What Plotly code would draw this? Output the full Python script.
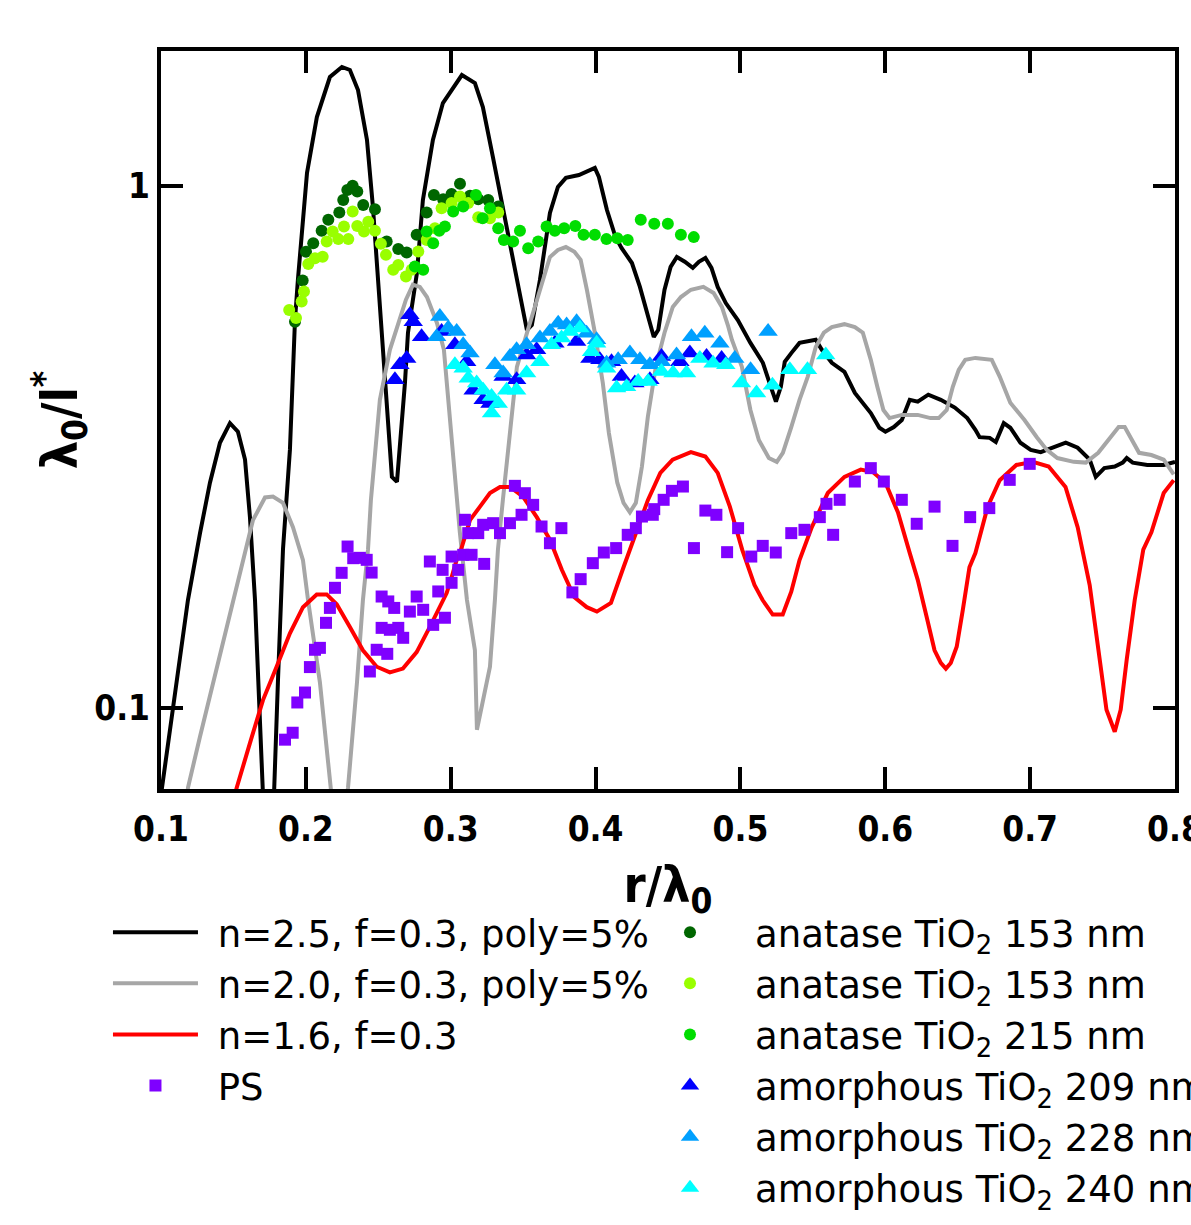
import plotly.graph_objects as go

# ---- model curves: (r/lambda0, lambda0/l*) ----
N25_CURVE = [
    (0.1, 0.0682), (0.1186, 0.161), (0.1269, 0.216), (0.1338, 0.270), (0.1407, 0.322),
    (0.1476, 0.351), (0.1531, 0.338), (0.158, 0.299), (0.1614, 0.232), (0.1649, 0.161),
    (0.1663, 0.129), (0.1704, 0.0682), (0.174, 0.05), (0.178, 0.0682), (0.1807, 0.112),
    (0.1842, 0.201), (0.189, 0.312), (0.1925, 0.553), (0.1945, 0.660), (0.2008, 1.058),
    (0.2076, 1.353), (0.2166, 1.614), (0.2249, 1.687), (0.2304, 1.665), (0.236, 1.524),
    (0.2422, 1.223), (0.2463, 0.910), (0.2511, 0.586), (0.2532, 0.485), (0.2567, 0.361),
    (0.2594, 0.277), (0.2629, 0.271), (0.2649, 0.312), (0.2684, 0.419), (0.2705, 0.523),
    (0.2739, 0.604), (0.2767, 0.681), (0.2808, 0.939), (0.2877, 1.223), (0.2946, 1.439),
    (0.3077, 1.628), (0.3167, 1.572), (0.3222, 1.414), (0.3291, 1.135), (0.336, 0.910),
    (0.3429, 0.730), (0.3491, 0.586), (0.3526, 0.529), (0.356, 0.541), (0.3616, 0.660),
    (0.3685, 0.887), (0.374, 0.994), (0.3795, 1.035), (0.3885, 1.048), (0.3995, 1.081),
    (0.4023, 1.039), (0.4078, 0.899), (0.4137, 0.798), (0.4179, 0.760), (0.4251, 0.711),
    (0.4306, 0.640), (0.4361, 0.561), (0.4402, 0.513), (0.4433, 0.530), (0.4476, 0.632),
    (0.4518, 0.699), (0.4561, 0.730), (0.4616, 0.715), (0.4671, 0.696), (0.4713, 0.715),
    (0.4758, 0.727), (0.48, 0.696), (0.4843, 0.640), (0.4899, 0.596), (0.4982, 0.553),
    (0.5069, 0.500), (0.5155, 0.458), (0.521, 0.412), (0.5245, 0.386), (0.5279, 0.412),
    (0.5306, 0.460), (0.5351, 0.478), (0.5408, 0.500), (0.552, 0.507), (0.5562, 0.485),
    (0.5631, 0.458), (0.5718, 0.440), (0.579, 0.401), (0.5845, 0.384), (0.59, 0.367),
    (0.5959, 0.344), (0.6001, 0.338), (0.6059, 0.345), (0.6114, 0.356), (0.6169, 0.389),
    (0.6224, 0.386), (0.6297, 0.398), (0.6383, 0.389), (0.648, 0.376), (0.6566, 0.359),
    (0.6622, 0.341), (0.6651, 0.330), (0.6721, 0.329), (0.6763, 0.323), (0.6818, 0.351),
    (0.6863, 0.344), (0.6933, 0.322), (0.7004, 0.312), (0.7073, 0.309), (0.7159, 0.316),
    (0.7246, 0.322), (0.7328, 0.315), (0.7411, 0.299), (0.7453, 0.277), (0.7512, 0.288),
    (0.7584, 0.290), (0.7639, 0.295), (0.7667, 0.301), (0.7708, 0.295), (0.7809, 0.292),
    (0.7922, 0.292), (0.8, 0.296),
]

N20_CURVE = [
    (0.1173, 0.06), (0.1186, 0.0704), (0.1269, 0.0881), (0.1386, 0.120), (0.1497, 0.161),
    (0.1573, 0.198), (0.1635, 0.229), (0.1718, 0.253), (0.1773, 0.254), (0.1842, 0.247),
    (0.1911, 0.222), (0.198, 0.192), (0.2015, 0.161), (0.2097, 0.112), (0.2173, 0.0698),
    (0.2222, 0.06), (0.2256, 0.06), (0.2291, 0.0704), (0.2353, 0.112), (0.2394, 0.161),
    (0.2429, 0.201), (0.2449, 0.250), (0.2511, 0.389), (0.258, 0.485), (0.2649, 0.561),
    (0.2691, 0.605), (0.2739, 0.646), (0.2787, 0.640), (0.2836, 0.612), (0.2905, 0.546),
    (0.2953, 0.485), (0.2994, 0.361), (0.3063, 0.217), (0.3112, 0.161), (0.3167, 0.129),
    (0.3181, 0.0909), (0.3222, 0.104), (0.3271, 0.120), (0.3305, 0.161), (0.3326, 0.201),
    (0.336, 0.250), (0.3408, 0.336), (0.3457, 0.450), (0.3526, 0.522), (0.3595, 0.605),
    (0.3685, 0.730), (0.374, 0.753), (0.3795, 0.763), (0.3854, 0.747), (0.3897, 0.721),
    (0.394, 0.632), (0.3995, 0.523), (0.405, 0.419), (0.4092, 0.336), (0.415, 0.270),
    (0.4193, 0.247), (0.4237, 0.237), (0.4278, 0.247), (0.432, 0.290), (0.4361, 0.361),
    (0.4416, 0.450), (0.4476, 0.523), (0.4533, 0.586), (0.4589, 0.612), (0.4658, 0.632),
    (0.4744, 0.640), (0.4815, 0.623), (0.4872, 0.586), (0.4913, 0.541), (0.4941, 0.507),
    (0.501, 0.450), (0.5069, 0.372), (0.5127, 0.326), (0.5196, 0.301), (0.5251, 0.296),
    (0.5293, 0.308), (0.5351, 0.345), (0.5408, 0.389), (0.5465, 0.431), (0.552, 0.491),
    (0.5576, 0.523), (0.5631, 0.536), (0.5718, 0.543), (0.579, 0.536), (0.5845, 0.523),
    (0.59, 0.464), (0.5945, 0.412), (0.5987, 0.372), (0.6029, 0.359), (0.6114, 0.364),
    (0.6224, 0.364), (0.6312, 0.359), (0.6369, 0.359), (0.6424, 0.372), (0.6466, 0.412),
    (0.6507, 0.444), (0.6552, 0.464), (0.6622, 0.468), (0.6735, 0.464), (0.679, 0.431),
    (0.6863, 0.384), (0.6961, 0.356), (0.7046, 0.330), (0.7115, 0.312), (0.7188, 0.301),
    (0.7301, 0.296), (0.7384, 0.295), (0.747, 0.308), (0.7555, 0.330), (0.7611, 0.345),
    (0.7653, 0.345), (0.7694, 0.330), (0.7752, 0.308), (0.7837, 0.305), (0.7922, 0.299),
    (0.7991, 0.280),
]

N16_CURVE = [
    (0.149, 0.065), (0.1522, 0.0703), (0.1614, 0.0857), (0.1704, 0.1036), (0.1798, 0.120),
    (0.189, 0.139), (0.198, 0.156), (0.2075, 0.165), (0.2144, 0.165), (0.2213, 0.158),
    (0.2304, 0.143), (0.2394, 0.129), (0.2489, 0.120), (0.258, 0.117), (0.267, 0.119),
    (0.2765, 0.128), (0.2856, 0.143), (0.2925, 0.156), (0.2972, 0.166), (0.3006, 0.178),
    (0.3041, 0.192), (0.3064, 0.198), (0.3133, 0.229), (0.3202, 0.243), (0.3271, 0.258),
    (0.334, 0.265), (0.3409, 0.265), (0.3499, 0.254), (0.3594, 0.232), (0.3685, 0.210),
    (0.3767, 0.184), (0.3854, 0.163), (0.3939, 0.156), (0.4009, 0.153), (0.4106, 0.159),
    (0.4193, 0.186), (0.4278, 0.217), (0.4361, 0.250), (0.4447, 0.282), (0.4532, 0.299),
    (0.4658, 0.309), (0.4758, 0.303), (0.4843, 0.282), (0.4927, 0.243), (0.5012, 0.201),
    (0.5097, 0.172), (0.5153, 0.161), (0.5223, 0.151), (0.5292, 0.151), (0.5351, 0.167),
    (0.5408, 0.192), (0.5493, 0.222), (0.5603, 0.258), (0.5718, 0.277), (0.5831, 0.286),
    (0.5914, 0.283), (0.6001, 0.270), (0.6087, 0.237), (0.6169, 0.198), (0.6224, 0.176),
    (0.6284, 0.150), (0.634, 0.129), (0.6383, 0.122), (0.6418, 0.119), (0.6452, 0.122),
    (0.6493, 0.131), (0.6535, 0.154), (0.6581, 0.186), (0.6622, 0.198), (0.6707, 0.243),
    (0.679, 0.273), (0.6905, 0.292), (0.7018, 0.296), (0.7128, 0.290), (0.7244, 0.265),
    (0.7328, 0.222), (0.7411, 0.172), (0.747, 0.129), (0.7527, 0.0993), (0.7584, 0.0901),
    (0.7625, 0.0993), (0.7667, 0.124), (0.7722, 0.161), (0.7781, 0.201), (0.7837, 0.217),
    (0.7922, 0.258), (0.7991, 0.273),
]

# ---- measurements ----
PS_DATA = [
    (0.1856, 0.0870), (0.1909, 0.0897), (0.1941, 0.1025), (0.1994, 0.1071), (0.2028, 0.1198),
    (0.2063, 0.1293), (0.2097, 0.1304), (0.2139, 0.1456), (0.2166, 0.1555), (0.2201, 0.1699),
    (0.2247, 0.1815), (0.2288, 0.2038), (0.2327, 0.1936), (0.2373, 0.1939), (0.2420, 0.1922),
    (0.2454, 0.1817), (0.2442, 0.1175), (0.2489, 0.1293), (0.2562, 0.1270), (0.2523, 0.1424),
    (0.2580, 0.1412), (0.2638, 0.1424), (0.2672, 0.1363), (0.2523, 0.1635), (0.2569, 0.1600),
    (0.2610, 0.1555), (0.2718, 0.1530), (0.2765, 0.1635), (0.2810, 0.1542), (0.2879, 0.1443),
    (0.2960, 0.1489), (0.2914, 0.1672), (0.2944, 0.1839), (0.3006, 0.1737), (0.3052, 0.1839),
    (0.2856, 0.1908), (0.3006, 0.1950), (0.3086, 0.1965), (0.3144, 0.1965), (0.3231, 0.1888),
    (0.3098, 0.2293), (0.3121, 0.2162), (0.3190, 0.2162), (0.3224, 0.2243), (0.3293, 0.2259),
    (0.3340, 0.2162), (0.3409, 0.2259), (0.3489, 0.2344), (0.3569, 0.2449), (0.3512, 0.2578),
    (0.3443, 0.2663), (0.3627, 0.2226), (0.3685, 0.2068), (0.3764, 0.2210), (0.3840, 0.1665),
    (0.3897, 0.1765), (0.3981, 0.1894), (0.4057, 0.1985), (0.4142, 0.2024), (0.4222, 0.2146),
    (0.4278, 0.2210), (0.4320, 0.2326), (0.4395, 0.2344), (0.4405, 0.2403), (0.4470, 0.2504),
    (0.4527, 0.2605), (0.4603, 0.2655), (0.4679, 0.2024), (0.4758, 0.2388), (0.4834, 0.2344),
    (0.4908, 0.1988), (0.4984, 0.2210), (0.5075, 0.1950), (0.5154, 0.2044), (0.5244, 0.1985),
    (0.5351, 0.2162), (0.5442, 0.2194), (0.5548, 0.2320), (0.5594, 0.2460), (0.5685, 0.2504),
    (0.5640, 0.2146), (0.5790, 0.2714), (0.5900, 0.2879), (0.5990, 0.2714), (0.6114, 0.2504),
    (0.6217, 0.2253), (0.6340, 0.2430), (0.6464, 0.2044), (0.6586, 0.2320), (0.6718, 0.2414),
    (0.6859, 0.2734), (0.6997, 0.2934),
]

ANATASE_153_A = [
    (0.1925, 0.549), (0.1978, 0.658), (0.2001, 0.747), (0.2051, 0.776), (0.2109, 0.820),
    (0.2155, 0.860), (0.2231, 0.888), (0.2258, 0.939), (0.2286, 0.981), (0.2323, 0.999),
    (0.2355, 0.974), (0.2396, 0.918), (0.2477, 0.901), (0.2558, 0.782), (0.2638, 0.756),
    (0.2696, 0.745), (0.2765, 0.805), (0.2834, 0.888), (0.2884, 0.960), (0.2948, 0.942),
    (0.3006, 0.964), (0.3064, 1.008), (0.3133, 0.956), (0.3190, 0.942), (0.3259, 0.939),
    (0.3328, 0.912),
]

ANATASE_153_B = [
    (0.1885, 0.578), (0.1932, 0.558), (0.1971, 0.600), (0.1987, 0.627), (0.2017, 0.708),
    (0.2063, 0.726), (0.2116, 0.731), (0.2144, 0.782), (0.2185, 0.817), (0.2224, 0.790),
    (0.2263, 0.835), (0.2293, 0.790), (0.2323, 0.892), (0.2355, 0.837), (0.2401, 0.817),
    (0.2431, 0.853), (0.2477, 0.820), (0.2518, 0.774), (0.2553, 0.737), (0.2603, 0.690),
    (0.2638, 0.705), (0.2691, 0.670), (0.2730, 0.690), (0.2776, 0.748), (0.2834, 0.787),
    (0.2891, 0.829), (0.2937, 0.905), (0.3006, 0.926), (0.3064, 0.953), (0.3121, 0.926),
    (0.3190, 0.870), (0.3271, 0.866), (0.3328, 0.888),
]

ANATASE_215 = [
    (0.2753, 0.700), (0.2810, 0.690), (0.2834, 0.817), (0.2879, 0.776), (0.2921, 0.820),
    (0.2960, 0.835), (0.3017, 0.892), (0.3086, 0.912), (0.3174, 0.960), (0.3220, 0.866),
    (0.3271, 0.905), (0.3328, 0.829), (0.3367, 0.787), (0.3431, 0.782), (0.3478, 0.820),
    (0.3535, 0.759), (0.3604, 0.782), (0.3662, 0.835), (0.3719, 0.820), (0.3783, 0.829),
    (0.3860, 0.837), (0.3917, 0.805), (0.3995, 0.805), (0.4075, 0.790), (0.4150, 0.793),
    (0.4222, 0.787), (0.4312, 0.860), (0.4405, 0.845), (0.4499, 0.845), (0.4589, 0.805),
    (0.4678, 0.797),
]

AMORPHOUS_209 = [
    (0.2615, 0.425), (0.2649, 0.454), (0.2696, 0.467), (0.2718, 0.566), (0.2741, 0.549),
    (0.2799, 0.514), (0.2937, 0.526), (0.3029, 0.496), (0.3110, 0.460), (0.3155, 0.406),
    (0.3224, 0.389), (0.3271, 0.383), (0.3362, 0.431), (0.3455, 0.425), (0.3524, 0.474),
    (0.3593, 0.485), (0.3719, 0.499), (0.3869, 0.503), (0.3961, 0.467), (0.4030, 0.464),
    (0.4110, 0.460), (0.4179, 0.431), (0.4271, 0.419), (0.4375, 0.425), (0.4455, 0.471),
    (0.4582, 0.460), (0.4651, 0.478), (0.4766, 0.471), (0.4870, 0.467),
]

AMORPHOUS_228 = [
    (0.2903, 0.514), (0.2925, 0.562), (0.2983, 0.534), (0.3041, 0.526), (0.3086, 0.496),
    (0.3133, 0.478), (0.3305, 0.454), (0.3362, 0.438), (0.3409, 0.471), (0.3455, 0.485),
    (0.3524, 0.496), (0.3616, 0.511), (0.3685, 0.526), (0.3742, 0.545), (0.3800, 0.541),
    (0.3869, 0.549), (0.3938, 0.522), (0.4007, 0.507), (0.4076, 0.457), (0.4156, 0.464),
    (0.4237, 0.478), (0.4306, 0.464), (0.4375, 0.454), (0.4455, 0.460), (0.4559, 0.474),
    (0.4662, 0.514), (0.4754, 0.522), (0.4858, 0.499), (0.4961, 0.467), (0.5070, 0.444),
    (0.5191, 0.526),
]

AMORPHOUS_240 = [
    (0.3029, 0.454), (0.3086, 0.447), (0.3121, 0.428), (0.3179, 0.419), (0.3224, 0.406),
    (0.3282, 0.395), (0.3328, 0.383), (0.3282, 0.367), (0.3386, 0.406), (0.3455, 0.406),
    (0.3524, 0.438), (0.3616, 0.460), (0.3696, 0.496), (0.3765, 0.511), (0.3823, 0.526),
    (0.3892, 0.534), (0.3972, 0.481), (0.4007, 0.499), (0.4076, 0.447), (0.4145, 0.410),
    (0.4214, 0.412), (0.4294, 0.422), (0.4363, 0.422), (0.4455, 0.441), (0.4535, 0.438),
    (0.4628, 0.438), (0.4720, 0.467), (0.4811, 0.457), (0.4899, 0.454), (0.5007, 0.419),
    (0.5111, 0.401), (0.5221, 0.415), (0.5341, 0.444), (0.5463, 0.444), (0.5589, 0.474),
]

X_TICKS = [0.1, 0.2, 0.3, 0.4, 0.5, 0.6, 0.7, 0.8]
X_TICK_TEXT = ["0.1", "0.2", "0.3", "0.4", "0.5", "0.6", "0.7", "0.8"]
Y_TICKS = [0.1, 1]
Y_TICK_TEXT = ["0.1", "1"]

AXIS_FONT = "DejaVu Sans Condensed, DejaVu Sans, sans-serif"
LEGEND_FONT = "DejaVu Sans, sans-serif"
GAP = "\u2009\u2009"  # small gap between the line samples and their labels


def xs(pairs):
    return [p[0] for p in pairs]


def ys(pairs):
    return [p[1] for p in pairs]


fig = go.Figure()

# theory curves (left legend column)
for name, pairs, color in [
    ("n=2.5, f=0.3, poly=5%", N25_CURVE, "#000000"),
    ("n=2.0, f=0.3, poly=5%", N20_CURVE, "#a6a6a6"),
    ("n=1.6, f=0.3", N16_CURVE, "#ff0000"),
]:
    fig.add_trace(go.Scatter(
        x=xs(pairs), y=ys(pairs), mode="lines", name=GAP + name,
        line=dict(color=color, width=4), legend="legend",
    ))

fig.add_trace(go.Scatter(
    x=xs(PS_DATA), y=ys(PS_DATA), mode="markers", name=GAP + "PS",
    marker=dict(symbol="square", size=12, color="#7f00ff"), legend="legend",
))

# TiO2 measurements (right legend column)
for name, pairs, color in [
    ("anatase TiO<sub>2</sub> 153 nm", ANATASE_153_A, "#006600"),
    ("anatase TiO<sub>2</sub> 153 nm", ANATASE_153_B, "#99ff00"),
    ("anatase TiO<sub>2</sub> 215 nm", ANATASE_215, "#00dd00"),
]:
    fig.add_trace(go.Scatter(
        x=xs(pairs), y=ys(pairs), mode="markers", name=name,
        marker=dict(symbol="circle", size=12, color=color), legend="legend2",
    ))

for name, pairs, color in [
    ("amorphous TiO<sub>2</sub> 209 nm", AMORPHOUS_209, "#0000ff"),
    ("amorphous TiO<sub>2</sub> 228 nm", AMORPHOUS_228, "#00a0ff"),
    ("amorphous TiO<sub>2</sub> 240 nm", AMORPHOUS_240, "#00ffff"),
]:
    fig.add_trace(go.Scatter(
        x=xs(pairs), y=ys(pairs), mode="markers", name=name,
        marker=dict(symbol="triangle-up", size=17, color=color), legend="legend2",
    ))

legend_font = dict(family=LEGEND_FONT, size=37, color="#000000")

fig.update_layout(
    width=1191, height=1225,
    margin=dict(l=161, r=16, t=51, b=436, autoexpand=False),
    paper_bgcolor="#ffffff", plot_bgcolor="#ffffff",
    font=dict(family=AXIS_FONT, color="#000000"),
    showlegend=True,
    legend=dict(
        x=-0.0523, y=-0.1527, xanchor="left", yanchor="top",
        font=legend_font, bgcolor="rgba(0,0,0,0)", itemwidth=85,
        tracegroupgap=0,
    ),
    legend2=dict(
        x=0.4576, y=-0.1527, xanchor="left", yanchor="top",
        font=legend_font, bgcolor="rgba(0,0,0,0)", itemwidth=120,
        tracegroupgap=0,
    ),
    xaxis=dict(
        range=[0.1, 0.8], tickvals=X_TICKS, ticktext=X_TICK_TEXT,
        ticks="inside", ticklen=22, tickwidth=4, tickcolor="#000000",
        showline=True, linewidth=4, linecolor="#000000", mirror="ticks",
        showgrid=False, zeroline=False, ticklabeloverflow="allow",
        ticklabelstandoff=6,
        tickfont=dict(family=AXIS_FONT, size=35, weight="bold", color="#000000"),
        title=dict(text="<b>r/λ<sub>0</sub></b>",
                   font=dict(family=AXIS_FONT, size=50, color="#000000"), standoff=20),
    ),
    yaxis=dict(
        type="log", range=[-1.1549, 0.2577], tickvals=Y_TICKS, ticktext=Y_TICK_TEXT,
        ticks="inside", ticklen=22, tickwidth=4, tickcolor="#000000",
        showline=True, linewidth=4, linecolor="#000000", mirror="ticks",
        showgrid=False, zeroline=False,
        tickfont=dict(family=AXIS_FONT, size=35, weight="bold", color="#000000"),
        title=dict(text="<b>λ<sub>0</sub>/l<sup>*</sup></b>",
                   font=dict(family=AXIS_FONT, size=50, color="#000000"), standoff=2),
    ),
)

fig.write_html("out.html")
